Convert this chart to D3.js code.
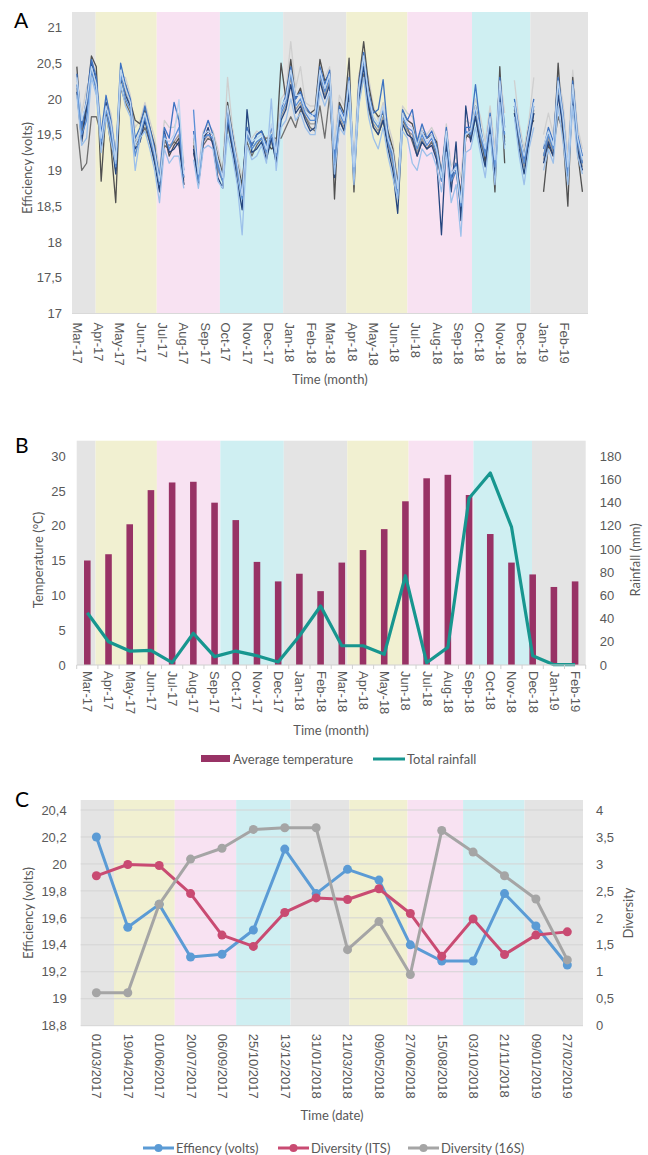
<!DOCTYPE html>
<html>
<head>
<meta charset="utf-8">
<script src="https://cdnjs.cloudflare.com/ajax/libs/d3/7.8.5/d3.min.js"></script>
<style>
body { margin: 0; background: #fff; }
svg { display: block; font-family: Lato, "Open Sans", sans-serif; }
</style>
</head>
<body>
<svg id="chart" width="648" height="1155"></svg>
<script>
var parse = d3.timeParse("%Y-%m-%d");

/////DATA/////////////////////////////////////////
// seasons (shading), same order in every panel
var seasonOrder = ["winter", "spring", "summer", "autumn", "winter", "spring", "summer", "autumn", "winter"];
var seasonEdgesAB = ["2017-03-28", "2017-06-24", "2017-09-23", "2017-12-23", "2018-03-24", "2018-06-20", "2018-09-21", "2018-12-14"];
var seasonEdgesC = ["2017-03-28", "2017-06-30", "2017-10-03", "2017-12-26", "2018-03-27", "2018-06-25", "2018-09-19", "2018-12-23"];

// panel A: weekly efficiency (volts) of the cells, first sample 2017-03-01
var cellA = [20.1, 19.4, 19.85, 20.5, 20.25, 19.3, 19.95, 19.5, 18.95, 20.3,
  20.05, 19.9, 19.3, 19.4, 19.7, 19.4, 19.1, 18.7, 19.55, 19.25,
  19.3, 19.4, 18.8, null, 19.3, 18.8, 19.4, 19.6, 19.35, 18.9,
  18.75, 19.7, 19.3, 18.85, 18.45, 19.85, 19.25, 19.3, 19.4, 19.15,
  19.45, 19.1, 19.7, 19.85, 20.2, 19.8, 19.9, 19.7, 19.55, 19.6,
  20.25, 20.0, 20.2, 18.9, 19.7, 19.55, 20.1, 18.85, 20.0, 20.45,
  19.9, 19.6, 19.5, 19.7, 19.3, 19.0, 18.4, 19.65, 19.5, 19.45,
  19.2, 19.4, 19.3, 19.35, 19.15, 18.1, 19.4, 18.7, 19.4, 18.3,
  19.9, 19.4, 19.75, 19.35, 19.05, 19.6, 18.9, 20.1, 19.35, null,
  19.8, 19.3, 18.95, 19.4, 19.8, null, 19.1, 19.4, 19.2, 20.05,
  19.6, 18.85, 20.05, 19.3, 19.0];
var cellB = [20.35, 19.6, 20.0, 20.55, 20.3, 19.5, 20.05, 19.7, 19.2, 20.5,
  20.2, 20.0, 19.45, 19.6, 19.9, 19.6, 19.3, 18.9, 19.6, 19.45,
  19.95, 19.7, 19.0, null, 19.55, 18.9, 19.5, 19.7, 19.5, 19.1,
  18.9, 19.85, 19.5, 19.05, 18.7, 19.6, 19.35, 19.5, 19.55, 19.35,
  19.6, 19.3, 19.85, 20.05, 20.45, 20.0, 20.1, 19.9, 19.8, 19.75,
  20.45, 20.2, 20.4, 19.2, 19.9, 19.75, 20.3, 19.0, 20.2, 20.65,
  20.1, 19.8, 19.85, 20.27, 19.5, 19.2, 18.75, 19.85, 19.7, 19.85,
  19.4, 19.65, 19.45, 19.55, 19.35, 18.95, 19.6, 18.9, 19.1, 18.6,
  19.6, 19.6, 20.2, 19.6, 19.25, 19.8, 19.1, 20.3, 19.6, null,
  20.0, 19.55, 19.15, 19.6, 20.0, null, 19.3, 19.6, 19.4, 20.3,
  19.8, 19.0, 20.25, 19.5, 19.2];
var cellC = [20.2, 19.5, 19.7, 20.4, 20.1, 19.4, 19.85, 19.55, 19.05, 20.35,
  20.0, 19.85, 19.2, 19.5, 19.75, 19.45, 19.2, 18.8, 19.5, 19.3,
  19.45, 19.6, 18.9, null, 19.85, 18.85, 19.45, 19.5, 19.45, 19.05,
  18.85, 19.75, 19.4, 19.0, 18.6, 19.5, 19.3, 19.4, 19.45, 19.25,
  19.5, 19.2, 19.8, 19.95, 20.35, 19.9, 20.0, 19.8, 19.7, 19.7,
  20.35, 20.1, 20.3, 19.1, 19.8, 19.65, 20.2, 18.95, 20.1, 20.55,
  20.0, 19.7, 19.6, 19.85, 19.4, 19.15, 18.65, 19.75, 19.6, 19.55,
  19.3, 19.5, 19.35, 19.45, 19.25, 18.85, 19.5, 18.85, 19.0, 18.5,
  19.55, 19.5, 19.85, 19.5, 19.2, 19.7, 19.05, 20.2, 19.5, null,
  19.9, 19.45, 19.1, 19.5, 19.9, null, 19.2, 19.5, 19.3, 20.2,
  19.7, 18.95, 20.15, 19.4, 19.1];
var cellD = [20.05, 19.35, 19.45, 20.3, 20.05, 19.25, 19.75, 19.4, 19.1, 20.2,
  19.9, 19.75, 19.0, 19.45, 19.55, 19.3, 19.0, 18.55, 19.3, 19.1,
  19.2, 19.2, 18.75, null, 19.15, 18.75, 19.3, 19.35, 19.3, 18.85,
  18.75, 19.5, 19.2, 18.8, 18.1, 19.35, 19.15, 19.2, 19.35, 19.1,
  20.0, 19.0, 19.6, 19.7, 20.0, 19.7, 19.8, 19.6, 19.5, 19.5,
  20.1, 19.9, 20.1, 18.95, 19.6, 19.5, 19.95, 18.8, 19.9, 20.3,
  19.75, 19.45, 19.3, 19.6, 19.2, 18.9, 18.6, 19.55, 19.45, 19.1,
  19.0, 19.3, 19.2, 19.25, 19.05, 18.7, 19.25, 18.55, 18.8, 18.08,
  19.25, 19.3, 19.6, 19.25, 18.9, 19.5, 18.8, 19.95, 19.3, null,
  19.75, 19.2, 18.8, 19.3, 19.6, null, 19.0, 19.3, 19.1, 19.9,
  19.4, 18.8, 19.9, 19.2, 18.95];
var cellE = [20.3, 19.7, 19.95, 20.45, 20.2, 19.45, 19.9, 19.65, 19.15, 20.4,
  20.15, 19.95, 19.35, 19.55, 19.8, 19.55, 19.25, 18.85, 19.45, 19.4,
  19.5, 19.99, 18.95, null, 19.5, 18.95, 19.5, 19.55, 19.5, 19.15,
  18.9, 19.9, 19.45, 19.1, 18.65, 19.55, 19.4, 19.45, 19.5, 19.3,
  19.65, 19.25, 19.9, 20.0, 20.4, 20.05, 20.05, 19.85, 19.75, 19.8,
  20.4, 20.15, 20.35, 19.3, 19.85, 19.7, 20.25, 19.05, 20.15, 20.6,
  20.05, 19.75, 19.65, 19.9, 19.45, 19.25, 18.75, 19.8, 19.65, 19.6,
  19.35, 19.55, 19.4, 19.5, 19.3, 18.9, 19.55, 18.95, 19.05, 18.55,
  19.5, 19.55, 19.9, 19.55, 19.3, 19.75, 19.15, 20.25, 19.55, null,
  19.95, 19.5, 19.2, 19.55, 19.95, null, 19.35, 19.55, 19.35, 20.25,
  19.75, 19.05, 20.2, 19.45, 19.15];
var cellF = [20.25, 19.8, 20.15, 20.35, 20.4, 19.55, 20.0, 19.8, 19.25, 20.3,
  20.3, 20.05, 19.6, 19.7, 19.95, 19.7, 19.45, 19.0, 19.7, 19.6,
  19.6, 19.8, 19.1, null, 19.4, 19.05, 19.55, 19.65, 19.55, 19.3,
  19.0, 20.3, 19.6, 19.2, 18.9, 19.45, 19.45, 19.55, 19.5, 19.45,
  19.55, 19.4, 20.0, 20.1, 20.8, 20.15, 20.45, 19.95, 19.9, 19.9,
  20.5, 20.3, 20.45, 19.4, 20.05, 19.9, 20.35, 19.2, 20.35, 20.5,
  20.3, 19.9, 19.7, 19.95, 19.65, 19.4, 18.85, 19.9, 19.8, 19.75,
  19.45, 19.6, 19.5, 19.6, 19.45, 19.0, 19.65, 19.05, 19.2, 18.9,
  19.7, 19.65, 20.0, 19.75, 19.4, 19.9, 19.3, 20.35, 19.8, null,
  20.26, 19.65, 19.3, 19.7, 20.3, null, 19.5, 19.8, 19.5, 20.35,
  19.95, 19.2, 20.4, 19.6, 19.3];
var cellG = [20.15, 19.55, 19.9, 20.4, 20.15, 19.35, 19.95, 19.6, 19.0, 20.35,
  20.1, 19.9, 19.4, 19.5, 19.7, 19.5, 19.2, 18.8, 19.4, 19.35,
  19.4, 19.5, 18.85, null, 19.45, 18.85, 19.4, 19.5, 19.4, 19.0,
  18.85, 19.8, 19.35, 18.95, 18.7, 19.5, 19.3, 19.4, 19.45, 19.2,
  19.4, 19.15, 19.75, 19.9, 20.3, 19.85, 19.95, 19.75, 19.65, 19.65,
  20.3, 20.05, 20.25, 19.05, 19.75, 19.6, 20.15, 18.9, 20.05, 20.5,
  19.95, 19.65, 19.55, 19.75, 19.35, 19.1, 18.7, 19.7, 19.55, 19.5,
  19.25, 19.45, 19.3, 19.4, 19.2, 18.85, 19.45, 18.8, 19.0, 18.45,
  19.5, 19.45, 19.8, 19.45, 19.15, 19.65, 19.0, 20.15, 19.45, null,
  19.85, 19.4, 19.05, 19.45, 19.85, null, 19.15, 19.45, 19.25, 20.1,
  19.65, 18.9, 20.1, 19.35, 19.05];
var cellH = [20.45, 19.45, 19.95, 20.6, 20.45, 18.85, 19.85, 19.35, 18.55, 20.25,
  20.2, 19.95, 19.7, 19.65, 19.85, 19.6, 19.35, 18.75, 19.5, 19.2,
  19.35, 19.45, 18.8, null, 19.25, 18.9, 19.45, 19.55, 19.5, 19.2,
  18.95, 19.95, 19.5, 19.1, 18.8, 19.6, 19.35, 19.5, 19.55, 19.4,
  19.3, 19.35, 20.5, 20.0, 20.55, 20.0, 20.15, 19.85, 19.8, 19.85,
  20.55, 20.25, 20.35, 18.6, 19.95, 19.8, 20.57, 18.7, 20.25, 20.8,
  20.2, 19.85, 19.75, 19.8, 19.55, 19.3, 18.8, 19.8, 19.7, 19.65,
  19.35, 19.55, 19.45, 19.5, 19.4, 18.95, 19.55, 18.9, 19.1, 18.7,
  19.45, 19.55, 19.9, 19.6, 19.1, 19.75, 18.7, 20.45, 19.1, null,
  19.9, 19.5, 19.2, 19.6, 19.7, null, 18.7, 19.35, 19.2, 20.5,
  19.5, 18.5, 20.3, 19.25, 18.7];
var cellI = [19.65, 19.0, 19.1, 19.75, 19.75, 19.5, 19.9, 19.5, 19.0, 20.15,
  19.95, 19.8, 19.35, 19.45, 19.6, 19.4, 19.15, 18.9, 19.35, 19.3,
  19.4, 19.35, 18.9, null, 19.35, 18.8, 19.35, 19.45, 19.4, 19.05,
  18.85, 19.65, 19.3, 19.0, 18.75, 19.4, 19.2, 19.35, 19.45, 19.45,
  19.45, 19.45, 19.45, 19.6, 19.75, 19.6, 19.85, 19.75, 19.6, 19.55,
  19.9, 19.45, 20.05, 19.0, 19.7, 19.55, 20.0, 19.0, 19.95, 20.35,
  19.85, 19.6, 19.5, 19.7, 19.4, 19.2, 18.75, 19.7, 19.6, 19.4,
  19.2, 19.4, 19.3, 19.4, 19.2, 18.9, 19.45, 18.85, 19.0, 18.6,
  19.5, 19.45, 19.75, 19.4, 19.2, 19.6, 19.0, 20.05, 19.4, null,
  19.8, 19.4, 19.1, 19.45, 19.8, null, 19.2, 19.5, 19.3, 19.75,
  19.55, 18.95, 20.0, 19.4, 19.1];

// panel B: monthly weather
var months = ["Mar-17", "Apr-17", "May-17", "Jun-17", "Jul-17", "Aug-17", "Sep-17", "Oct-17", "Nov-17", "Dec-17", "Jan-18", "Feb-18",
  "Mar-18", "Apr-18", "May-18", "Jun-18", "Jul-18", "Aug-18", "Sep-18", "Oct-18", "Nov-18", "Dec-18", "Jan-19", "Feb-19"];
var avgTemp = [15.0, 15.9, 20.2, 25.1, 26.2, 26.3, 23.3, 20.8, 14.8, 12.0, 13.1, 10.6,
  14.7, 16.5, 19.5, 23.5, 26.8, 27.3, 24.4, 18.8, 14.7, 13.0, 11.2, 12.0];
var rainfall = [45, 20, 12, 12.6, 2, 27.3, 7.2, 12, 8, 2.6, 25, 50.8,
  16.6, 16.6, 9.2, 76.9, 2, 15.2, 143.6, 165.4, 119, 8, 0.3, 0.3];

// panel C: sampling dates, efficiency and diversity
var sampleDates = ["01/03/2017", "19/04/2017", "01/06/2017", "20/07/2017", "06/09/2017", "25/10/2017", "13/12/2017", "31/01/2018",
  "21/03/2018", "09/05/2018", "27/06/2018", "15/08/2018", "03/10/2018", "21/11/2018", "09/01/2019", "27/02/2019"];
var efficiency = [20.2, 19.53, 19.7, 19.31, 19.33, 19.51, 20.11, 19.78, 19.96, 19.88, 19.4, 19.28, 19.28, 19.78, 19.54, 19.25];
var diversityITS = [2.78, 2.99, 2.97, 2.45, 1.68, 1.47, 2.1, 2.37, 2.34, 2.54, 2.08, 1.29, 1.98, 1.32, 1.68, 1.74];
var diversity16S = [0.61, 0.61, 2.25, 3.09, 3.29, 3.64, 3.67, 3.67, 1.41, 1.93, 0.95, 3.62, 3.22, 2.78, 2.35, 1.22];

/////STYLE/////////////////////////////////////////
var seasonColor = { winter: "#e4e4e4", spring: "#f1f0d1", summer: "#f8e2f2", autumn: "#cfeff2" };
var textColor = "#595959";
// drawing order = key order (grays below, light blues on top)
var cellColors = { cellF: "#cfcfcf", cellG: "#9a9a9a", cellI: "#6e6e6e", cellH: "#505050",
  cellA: "#25467f", cellB: "#3e73c2", cellC: "#5a8fd6", cellD: "#9cc0ea", cellE: "#bcd5f0" };

var svg = d3.select("#chart");

function comma(v) {
    return String(+v.toFixed(1)).replace(".", ",");
}

function drawSeasons(g, x, d0, d1, edges, top, bottom) {
    var cuts = [d0].concat(edges.map(parse), [d1]);
    seasonOrder.forEach(function (s, i) {
        g.append("rect")
            .attr("x", x(cuts[i]))
            .attr("width", x(cuts[i + 1]) - x(cuts[i]))
            .attr("y", top)
            .attr("height", bottom - top)
            .attr("fill", seasonColor[s]);
    });
}

function styleAxis(sel) {
    sel.select(".domain").remove();
    sel.selectAll("text").attr("fill", textColor).style("font-size", "13px");
}

function rotateLabels(sel, gap) {
    sel.selectAll("text")
        .attr("transform", "rotate(90)")
        .attr("x", gap).attr("y", 0).attr("dy", "0.35em")
        .attr("text-anchor", "start");
}

function panelLetter(txt, x, y) {
    svg.append("text").attr("x", x).attr("y", y).text(txt)
        .style("font-size", "21px").attr("fill", "#000");
}

function axisTitle(txt, x, y, rot) {
    svg.append("text")
        .attr("transform", "translate(" + x + "," + y + ")" + (rot ? " rotate(" + rot + ")" : ""))
        .attr("text-anchor", "middle").attr("dy", "0.35em")
        .attr("fill", textColor).style("font-size", "13px")
        .text(txt);
}

/////PANEL A/////////////////////////////////////////
(function () {
    var L = 72, R = 588, T = 12, B = 313.5;
    var x = d3.scaleTime().domain([parse("2017-02-22"), parse("2019-03-07")]).range([L, R]);
    var y = d3.scaleLinear().domain([17, 21]).range([B, 27.3]);
    var weeks = d3.timeDay.range(parse("2017-03-01"), parse("2019-03-01"), 7);
    var g = svg.append("g");

    drawSeasons(g, x, x.domain()[0], x.domain()[1], seasonEdgesAB, T, B);

    g.append("line").attr("x1", L).attr("x2", R).attr("y1", B).attr("y2", B)
        .attr("stroke", "#d9d9d9");

    var line = d3.line()
        .defined(function (d) { return d[1] != null; })
        .x(function (d) { return x(d[0]); })
        .y(function (d) { return y(d[1]); });

    var cells = { cellF: cellF, cellG: cellG, cellI: cellI, cellH: cellH, cellA: cellA,
        cellB: cellB, cellC: cellC, cellD: cellD, cellE: cellE };
    Object.keys(cellColors).forEach(function (k) {
        var pts = weeks.map(function (w, i) { return [w, cells[k][i]]; });
        g.append("path").attr("d", line(pts))
            .attr("fill", "none").attr("stroke", cellColors[k])
            .attr("stroke-width", 1.3).attr("stroke-linejoin", "round");
    });

    svg.append("g").attr("transform", "translate(" + (L - 10) + ",0)")
        .call(d3.axisLeft(y).tickValues(d3.range(17, 21.01, 0.5)).tickSize(0).tickPadding(0).tickFormat(comma))
        .call(styleAxis);

    svg.append("g").attr("transform", "translate(0," + B + ")")
        .call(d3.axisBottom(x)
            .tickValues(d3.timeMonth.range(parse("2017-03-01"), parse("2019-03-01")))
            .tickFormat(d3.timeFormat("%b-%y")).tickSize(0))
        .call(styleAxis)
        .call(rotateLabels, 9);

    panelLetter("A", 14, 28);
    axisTitle("Efficiency (volts)", 27, 168, -90);
    axisTitle("Time (month)", 330, 379);
})();

/////PANEL B/////////////////////////////////////////
(function () {
    var L = 76.7, R = 585.7, T = 440.7, B = 665;
    var x = d3.scaleBand().domain(months).range([L, R]).paddingInner(0.69).paddingOuter(0.345);
    var xs = d3.scalePoint().domain(months).range([L, R]).padding(0.5);
    var season = d3.scaleTime().domain([parse("2017-03-01"), parse("2019-03-01")]).range([L, R]);
    var yT = d3.scaleLinear().domain([0, 30]).range([B, 456]);
    var yR = d3.scaleLinear().domain([0, 180]).range([B, 456]);
    var g = svg.append("g");

    drawSeasons(g, season, season.domain()[0], season.domain()[1], seasonEdgesAB, T, B);

    g.selectAll(".bar").data(avgTemp).enter().append("rect")
        .attr("x", function (d, i) { return x(months[i]); })
        .attr("width", x.bandwidth())
        .attr("y", function (d) { return yT(d); })
        .attr("height", function (d) { return B - yT(d); })
        .attr("fill", "#983265");

    g.append("path")
        .attr("d", d3.line()
            .x(function (d, i) { return xs(months[i]); })
            .y(function (d) { return yR(d); })(rainfall))
        .attr("fill", "none").attr("stroke", "#17968f")
        .attr("stroke-width", 3.2).attr("stroke-linejoin", "round");

    // axis line with ticks between categories
    g.append("line").attr("x1", L).attr("x2", R).attr("y1", B).attr("y2", B)
        .attr("stroke", "#d0d0d0");
    g.selectAll(".tk").data(d3.range(months.length + 1)).enter().append("line")
        .attr("x1", function (i) { return L + i * x.step(); })
        .attr("x2", function (i) { return L + i * x.step(); })
        .attr("y1", B).attr("y2", B + 4).attr("stroke", "#d0d0d0");

    svg.append("g").attr("transform", "translate(" + (L - 11) + ",0)")
        .call(d3.axisLeft(yT).tickValues(d3.range(0, 31, 5)).tickSize(0).tickPadding(0))
        .call(styleAxis);
    svg.append("g").attr("transform", "translate(" + (R + 14) + ",0)")
        .call(d3.axisRight(yR).tickValues(d3.range(0, 181, 20)).tickSize(0).tickPadding(0))
        .call(styleAxis);
    svg.append("g").attr("transform", "translate(0," + B + ")")
        .call(d3.axisBottom(xs).tickSize(0))
        .call(styleAxis)
        .call(rotateLabels, 6);

    panelLetter("B", 15, 453);
    axisTitle("Temperature (\u00B0C)", 38, 560, -90);
    axisTitle("Rainfall (mm)", 635, 560, -90);
    axisTitle("Time (month)", 331, 730);

    // legend
    var lg = svg.append("g").style("font-size", "13px").attr("fill", textColor);
    lg.append("rect").attr("x", 201).attr("y", 755).attr("width", 29).attr("height", 7).attr("fill", "#983265");
    lg.append("text").attr("x", 233).attr("y", 759).attr("dy", "0.35em").text("Average temperature");
    lg.append("line").attr("x1", 373).attr("x2", 405).attr("y1", 759).attr("y2", 759)
        .attr("stroke", "#17968f").attr("stroke-width", 3);
    lg.append("text").attr("x", 407).attr("y", 759).attr("dy", "0.35em").text("Total rainfall");
})();

/////PANEL C/////////////////////////////////////////
(function () {
    var L = 80.7, R = 583, T = 800, B = 1025.7;
    var x = d3.scalePoint().domain(sampleDates).range([L, R]).padding(0.5);
    var dayPad = 24.5 * 864e5;
    var d0 = new Date(parse("2017-03-01").getTime() - dayPad);
    var d1 = new Date(parse("2019-02-27").getTime() + dayPad);
    var season = d3.scaleTime().domain([d0, d1]).range([L, R]);
    var yL = d3.scaleLinear().domain([18.8, 20.4]).range([B, 810]);
    var yR = d3.scaleLinear().domain([0, 4]).range([B, 810]);
    var g = svg.append("g");

    drawSeasons(g, season, d0, d1, seasonEdgesC, T, B);

    g.selectAll(".grid").data(d3.range(0, 9)).enter().append("line")
        .attr("x1", L).attr("x2", R)
        .attr("y1", function (i) { return yL(18.8 + i * 0.2); })
        .attr("y2", function (i) { return yL(18.8 + i * 0.2); })
        .attr("stroke", "#d4d4d4");

    var series = [
        { vals: efficiency, y: yL, color: "#5b9bd5" },
        { vals: diversityITS, y: yR, color: "#c94b72" },
        { vals: diversity16S, y: yR, color: "#a5a5a5" }
    ];
    series.forEach(function (s) {
        var line = d3.line()
            .x(function (d, i) { return x(sampleDates[i]); })
            .y(function (d) { return s.y(d); });
        g.append("path").attr("d", line(s.vals))
            .attr("fill", "none").attr("stroke", s.color)
            .attr("stroke-width", 3).attr("stroke-linejoin", "round");
        g.selectAll(null).data(s.vals).enter().append("circle")
            .attr("cx", function (d, i) { return x(sampleDates[i]); })
            .attr("cy", function (d) { return s.y(d); })
            .attr("r", 4.5).attr("fill", s.color);
    });

    svg.append("g").attr("transform", "translate(" + (L - 14) + ",0)")
        .call(d3.axisLeft(yL).tickValues(d3.range(0, 9).map(function (i) { return 18.8 + i * 0.2; }))
            .tickSize(0).tickPadding(0).tickFormat(comma))
        .call(styleAxis);
    svg.append("g").attr("transform", "translate(" + (R + 13) + ",0)")
        .call(d3.axisRight(yR).tickValues(d3.range(0, 4.01, 0.5)).tickSize(0).tickPadding(0).tickFormat(comma))
        .call(styleAxis);
    svg.append("g").attr("transform", "translate(0," + B + ")")
        .call(d3.axisBottom(x).tickSize(0))
        .call(styleAxis)
        .call(rotateLabels, 8);

    panelLetter("C", 15, 807);
    axisTitle("Efficiency (volts)", 28, 913, -90);
    axisTitle("Diversity", 628, 913, -90);
    axisTitle("Time (date)", 332, 1115);

    var items = [
        { name: "Effiency (volts)", color: "#5b9bd5", x: 143 },
        { name: "Diversity (ITS)", color: "#c94b72", x: 278 },
        { name: "Diversity (16S)", color: "#a5a5a5", x: 408 }
    ];
    var lg = svg.append("g").style("font-size", "13px");
    items.forEach(function (it) {
        lg.append("line").attr("x1", it.x).attr("x2", it.x + 31).attr("y1", 1148).attr("y2", 1148)
            .attr("stroke", it.color).attr("stroke-width", 3);
        lg.append("circle").attr("cx", it.x + 15.5).attr("cy", 1148).attr("r", 4).attr("fill", it.color);
        lg.append("text").attr("x", it.x + 33).attr("y", 1148).attr("dy", "0.35em")
            .attr("fill", textColor).text(it.name);
    });
})();
</script>
</body>
</html>
